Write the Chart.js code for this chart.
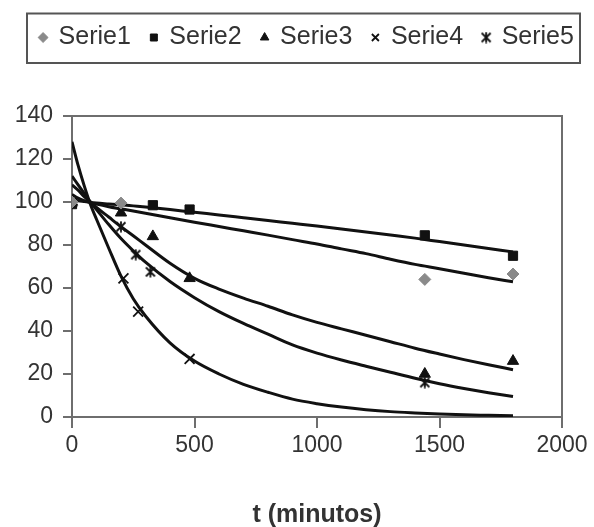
<!DOCTYPE html>
<html>
<head>
<meta charset="utf-8">
<script src="https://cdn.jsdelivr.net/npm/chart.js@4.4.1/dist/chart.umd.min.js"></script>
<style>
  html, body { margin: 0; padding: 0; background: #ffffff; }
  #wrap { width: 594px; height: 527px; }
</style>
</head>
<body>
<div id="wrap"><canvas id="c" width="594" height="527"></canvas></div>
<script>
// ---- data ----
const seriesNames = ['Serie1', 'Serie2', 'Serie3', 'Serie4', 'Serie5'];

// measured points (t in minutes, value)
const serie1T = [0, 200, 1440, 1800];
const serie1V = [100, 99.5, 64, 66.5];
const serie2T = [0, 330, 480, 1440, 1800];
const serie2V = [99, 98.5, 96.5, 84.5, 75];
const serie3T = [0, 200, 330, 480, 1440, 1800];
const serie3V = [100, 95, 84, 64.5, 20, 26];
const serie4T = [0, 210, 270, 480];
const serie4V = [100, 64.5, 49, 27];
const serie5T = [0, 200, 260, 320, 1440];
const serie5V = [100, 88.5, 75.5, 67.5, 16];

// fitted curves
const curveT = [0, 25, 50, 75, 100, 150, 200, 250, 300, 400, 500, 600, 700, 800, 900, 1000, 1100, 1200, 1300, 1400, 1500, 1600, 1700, 1800];
const fit1V = [103.5, 101.8, 100.6, 99.7, 99, 97.8, 96.8, 95.8, 94.8, 92.7, 90.6, 88.6, 86.6, 84.6, 82.5, 80.5, 78.2, 76, 73.4, 71, 69, 66.9, 64.8, 62.9];
const fit2V = [101.2, 100.6, 100.2, 99.8, 99.5, 99.1, 98.7, 98.2, 97.7, 96.5, 95.2, 94, 92.7, 91.4, 90.1, 88.8, 87.4, 86, 84.6, 83.2, 81.6, 80, 78.4, 76.8];
const fit3V = [108, 105.5, 102.5, 100, 97.5, 93, 88.5, 84.3, 80, 71.5, 64.5, 59.5, 55.3, 51.5, 47.5, 44, 41, 38, 35, 32, 29.3, 26.7, 24.3, 22];
const fit5V = [112, 108, 104, 100, 96.5, 89.5, 83, 77.3, 72, 63, 55.5, 49, 43.5, 38.5, 33.5, 29.7, 26.5, 23.6, 20.8, 18, 15.5, 13.3, 11.3, 9.5];
const fit4V = [128, 117, 107.5, 99, 92, 78.5, 65.5, 55, 47, 34.5, 26, 20, 15.2, 11.5, 8.3, 6.2, 4.6, 3.4, 2.5, 1.9, 1.4, 1.0, 0.8, 0.6];

// axis ticks
const xTicks = [0, 500, 1000, 1500, 2000];
const yTicks = [0, 20, 40, 60, 80, 100, 120, 140];
const xTitle = 't (minutos)';

// ---- build ----
const zip = (t, v) => t.map((x, i) => ({ x: x, y: v[i] }));

// asterisk marker (x with a vertical bar)
function makeAsterisk(size, lw) {
  const cv = document.createElement('canvas');
  cv.width = size; cv.height = size;
  const g = cv.getContext('2d');
  g.strokeStyle = '#111'; g.lineWidth = lw; g.lineCap = 'butt';
  const m = 1.5, s = size;
  g.beginPath();
  g.moveTo(m, m); g.lineTo(s - m, s - m);
  g.moveTo(s - m, m); g.lineTo(m, s - m);
  g.moveTo(s / 2, 0.5); g.lineTo(s / 2, s - 0.5);
  g.stroke();
  return cv;
}
const asterisk = makeAsterisk(12, 1.8);

const FONT = "'Liberation Sans', Arial, Helvetica, sans-serif";
const TXT = '#333333';
const AXIS = '#6e6e6e';

function markerSet(label, t, v, style, color, radius, bw) {
  return {
    label: label, data: zip(t, v), showLine: false,
    pointStyle: style, pointRadius: radius, pointHoverRadius: radius,
    pointBackgroundColor: color, pointBorderColor: color, pointBorderWidth: bw,
    backgroundColor: color, borderColor: color, order: 0
  };
}
function curveSet(label, v) {
  return {
    label: label, data: zip(curveT, v), showLine: true,
    borderColor: '#111111', borderWidth: 3, pointRadius: 0, pointHoverRadius: 0,
    tension: 0.4, cubicInterpolationMode: 'monotone', fill: false, order: 1
  };
}

const datasets = [
  markerSet(seriesNames[0], serie1T, serie1V, 'rectRot', '#8a8a8a', 6, 1),
  markerSet(seriesNames[1], serie2T, serie2V, 'rect', '#111111', 6.5, 1),
  markerSet(seriesNames[2], serie3T, serie3V, 'triangle', '#111111', 6.5, 1),
  markerSet(seriesNames[3], serie4T, serie4V, 'crossRot', '#111111', 7, 1.8),
  markerSet(seriesNames[4], serie5T, serie5V, asterisk, '#111111', 6, 1.8),
  curveSet('fit1', fit1V),
  curveSet('fit2', fit2V),
  curveSet('fit3', fit3V),
  curveSet('fit4', fit4V),
  curveSet('fit5', fit5V)
];

const legendFrame = {
  id: 'legendFrame',
  afterInit(chart) {
    const lg = chart.legend;
    if (lg && !lg._patched) {
      const orig = lg.fit.bind(lg);
      lg.fit = function () {
        const mw = this.maxWidth;
        this.maxWidth = 5000;
        orig();
        this.maxWidth = mw;
        this.width = mw;
        this.height = 111;
      };
      lg._patched = true;
    }
  },
  beforeDraw(chart) {
    const lg = chart.legend;
    if (lg) { lg.left = 8; lg.right = 606; }
  },
  afterDraw(chart) {
    const ctx = chart.ctx;
    ctx.save();
    ctx.strokeStyle = '#555555';
    ctx.lineWidth = 2;
    ctx.strokeRect(27, 13.5, 553, 49.5);
    ctx.restore();
  }
};

new Chart(document.getElementById('c'), {
  type: 'scatter',
  data: { datasets: datasets },
  plugins: [legendFrame],
  options: {
    responsive: false,
    animation: false,
    events: [],
    layout: { padding: { left: 10, right: 10, top: 5, bottom: 0 } },
    plugins: {
      tooltip: { enabled: false },
      legend: {
        display: true, position: 'top', align: 'center',
        labels: {
          filter: (item) => item.datasetIndex < 5,
          usePointStyle: true, boxWidth: 6, boxHeight: 7, padding: 20,
          color: TXT, font: { family: FONT, size: 25 }
        }
      }
    },
    scales: {
      x: {
        type: 'linear', min: 0, max: 2000,
        afterBuildTicks: (s) => { s.ticks = xTicks.map(v => ({ value: v })); },
        afterFit: (s) => { s.height = 110; },
        ticks: { color: TXT, font: { family: FONT, size: 23 }, padding: 4, maxRotation: 0, callback: (v) => String(v) },
        grid: { drawOnChartArea: false, drawTicks: true, tickLength: 11, tickColor: AXIS, lineWidth: 2 },
        border: { display: true, color: AXIS, width: 2 },
        title: { display: true, text: xTitle, color: TXT, font: { family: FONT, size: 25, weight: 'bold' }, padding: { top: 0, bottom: -3 } }
      },
      y: {
        type: 'linear', min: 0, max: 140, position: 'left',
        afterBuildTicks: (s) => { s.ticks = yTicks.map(v => ({ value: v })); },
        afterFit: (s) => { s.width = 62; },
        ticks: { color: TXT, font: { family: FONT, size: 23 }, padding: 10, callback: (v) => String(v) },
        grid: {
          drawOnChartArea: true, drawTicks: true, tickLength: 9, lineWidth: 2,
          color: (c) => (c.tick && c.tick.value === 140 ? AXIS : 'rgba(0,0,0,0)'),
          tickColor: AXIS
        },
        border: { display: true, color: AXIS, width: 2 }
      },
      y2: {
        type: 'linear', min: 0, max: 140, position: 'right',
        afterFit: (s) => { s.width = 22; },
        ticks: { display: false },
        grid: { display: false },
        border: { display: true, color: AXIS, width: 2 }
      }
    }
  }
});
</script>
</body>
</html>
